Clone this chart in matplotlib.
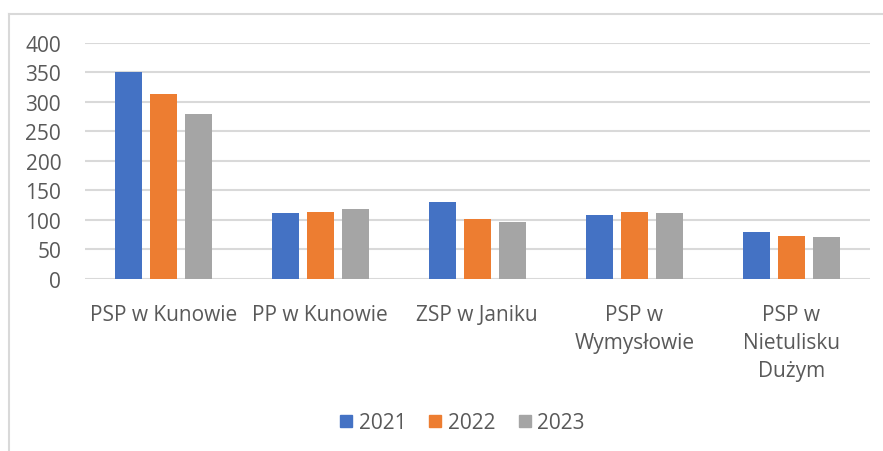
import numpy as np
import matplotlib
matplotlib.use("Agg")
import matplotlib.pyplot as plt
from matplotlib.lines import Line2D

plt.rcParams["font.family"] = ["Open Sans", "DejaVu Sans"]

# data
categories = ["PSP w Kunowie", "PP w Kunowie", "ZSP w Janiku", "PSP w\nWymysłowie", "PSP w\nNietulisku\nDużym"]
years = ["2021", "2022", "2023"]
v2021 = [350, 111, 130, 108, 80]
v2022 = [314, 113, 102, 113, 73]
v2023 = [279, 118, 97, 112, 71]
colors = ["#4472C4", "#ED7D31", "#A5A5A5"]
text_color = "#595959"

fig = plt.figure(figsize=(8.83, 4.52), dpi=100)
ax = fig.add_axes([0.096, 0.381, 0.889, 0.522])

x = np.arange(len(categories))
width = 0.172
step = 0.223
for i, (vals, c, lab) in enumerate(zip([v2021, v2022, v2023], colors, years)):
    ax.bar(x + (i - 1) * step, vals, width, color=c, label=lab, zorder=3)

ax.set_xlim(-0.5, len(categories) - 0.5)
ax.set_ylim(0, 400)
ax.set_yticks(range(0, 401, 50))
ax.yaxis.grid(True, color="#D9D9D9", linewidth=1.5, zorder=0)
for s in ax.spines.values():
    s.set_visible(False)
ax.tick_params(axis="both", length=0, colors=text_color, labelsize=15)
ax.tick_params(axis="y", pad=17)
ax.tick_params(axis="x", pad=18)
ax.set_xticks(x)
ax.set_xticklabels(categories, linespacing=1.44, va="top")

handles = [Line2D([0], [0], marker="s", linestyle="none", markersize=9,
                  markerfacecolor=c, markeredgecolor=c) for c in colors]
fig.legend(handles, years, loc="center", bbox_to_anchor=(0.52, 0.062), ncol=3,
           frameon=False, fontsize=15, labelcolor=text_color,
           handletextpad=0.0, handlelength=1.2, columnspacing=0.8)

# light chart border (top and left edges visible in the reference)
fig.add_artist(Line2D([8.5 / 883, 1], [1 - 15 / 452, 1 - 15 / 452], color="#D9D9D9", linewidth=1.5))
fig.add_artist(Line2D([8.5 / 883, 8.5 / 883], [0, 1 - 15 / 452], color="#D9D9D9", linewidth=1.5))

fig.savefig("out.png", dpi=100)
